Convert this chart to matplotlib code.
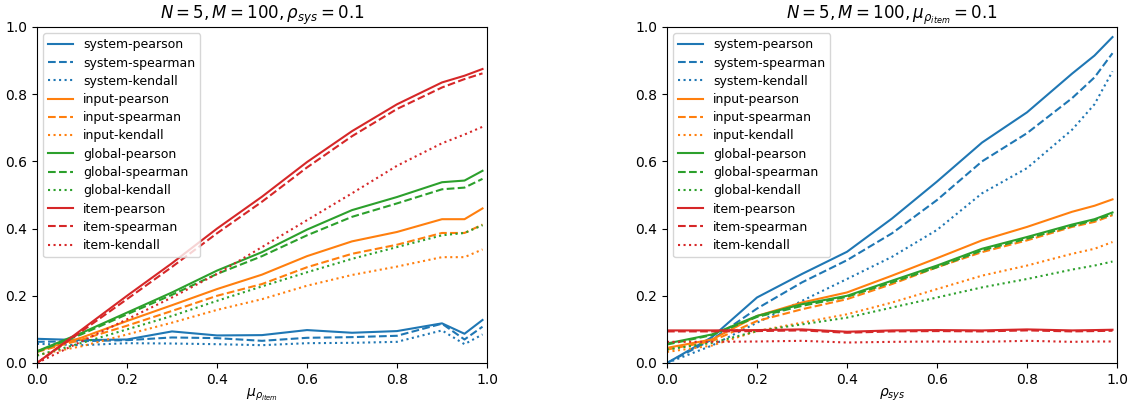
import matplotlib
matplotlib.use("Agg")
import matplotlib.pyplot as plt

# x grid shared by both panels
x_vals = [0.0, 0.1, 0.2, 0.3, 0.4, 0.5, 0.6, 0.7, 0.8, 0.9, 0.95, 0.99]

# left panel: varying mu_rho_item, rho_sys = 0.1
left_system_pearson = [0.072, 0.068, 0.070, 0.094, 0.082, 0.083, 0.098, 0.090, 0.095, 0.118, 0.087, 0.128]
left_system_spearman = [0.063, 0.065, 0.068, 0.076, 0.074, 0.066, 0.075, 0.077, 0.081, 0.117, 0.070, 0.108]
left_system_kendall = [0.057, 0.053, 0.059, 0.058, 0.056, 0.053, 0.059, 0.060, 0.063, 0.097, 0.056, 0.085]
left_input_pearson = [0.035, 0.076, 0.125, 0.172, 0.220, 0.263, 0.318, 0.362, 0.390, 0.428, 0.428, 0.460]
left_input_spearman = [0.033, 0.070, 0.111, 0.155, 0.200, 0.235, 0.285, 0.325, 0.352, 0.387, 0.387, 0.412]
left_input_kendall = [0.024, 0.050, 0.085, 0.120, 0.158, 0.190, 0.230, 0.262, 0.287, 0.315, 0.315, 0.338]
left_global_pearson = [0.035, 0.090, 0.150, 0.210, 0.275, 0.330, 0.397, 0.455, 0.494, 0.538, 0.543, 0.572]
left_global_spearman = [0.033, 0.086, 0.145, 0.203, 0.265, 0.318, 0.380, 0.435, 0.475, 0.517, 0.522, 0.548]
left_global_kendall = [0.022, 0.060, 0.100, 0.140, 0.185, 0.228, 0.270, 0.310, 0.345, 0.380, 0.387, 0.410]
left_item_pearson = [0.000, 0.100, 0.200, 0.297, 0.400, 0.495, 0.598, 0.690, 0.770, 0.835, 0.855, 0.875]
left_item_spearman = [0.000, 0.095, 0.190, 0.286, 0.386, 0.480, 0.582, 0.675, 0.756, 0.820, 0.845, 0.862]
left_item_kendall = [0.000, 0.065, 0.130, 0.195, 0.265, 0.345, 0.425, 0.505, 0.587, 0.654, 0.680, 0.703]

# right panel: varying rho_sys, mu_rho_item = 0.1
right_system_pearson = [0.000, 0.077, 0.195, 0.265, 0.331, 0.430, 0.540, 0.656, 0.746, 0.861, 0.915, 0.970]
right_system_spearman = [0.000, 0.070, 0.162, 0.240, 0.306, 0.386, 0.485, 0.600, 0.684, 0.788, 0.850, 0.922]
right_system_kendall = [0.000, 0.052, 0.120, 0.185, 0.250, 0.316, 0.396, 0.505, 0.580, 0.694, 0.770, 0.868]
right_input_pearson = [0.045, 0.070, 0.140, 0.180, 0.210, 0.260, 0.312, 0.365, 0.405, 0.450, 0.468, 0.487]
right_input_spearman = [0.040, 0.065, 0.125, 0.160, 0.190, 0.235, 0.285, 0.330, 0.365, 0.405, 0.420, 0.440]
right_input_kendall = [0.033, 0.052, 0.095, 0.120, 0.145, 0.180, 0.220, 0.260, 0.290, 0.325, 0.340, 0.360]
right_global_pearson = [0.058, 0.085, 0.140, 0.175, 0.200, 0.245, 0.290, 0.340, 0.375, 0.412, 0.428, 0.448]
right_global_spearman = [0.055, 0.083, 0.137, 0.170, 0.197, 0.240, 0.285, 0.335, 0.370, 0.408, 0.425, 0.443]
right_global_kendall = [0.040, 0.060, 0.095, 0.115, 0.135, 0.165, 0.195, 0.225, 0.250, 0.278, 0.290, 0.302]
right_item_pearson = [0.097, 0.097, 0.098, 0.100, 0.093, 0.097, 0.098, 0.097, 0.100, 0.097, 0.098, 0.099]
right_item_spearman = [0.094, 0.094, 0.095, 0.097, 0.090, 0.094, 0.095, 0.094, 0.097, 0.094, 0.095, 0.096]
right_item_kendall = [0.063, 0.063, 0.064, 0.066, 0.061, 0.063, 0.064, 0.063, 0.066, 0.063, 0.064, 0.064]

levels = ["system", "input", "global", "item"]
metrics = ["pearson", "spearman", "kendall"]
styles = {"pearson": "-", "spearman": "--", "kendall": ":"}
colors = {"system": "C0", "input": "C1", "global": "C2", "item": "C3"}

left_data = {
    "system": [left_system_pearson, left_system_spearman, left_system_kendall],
    "input": [left_input_pearson, left_input_spearman, left_input_kendall],
    "global": [left_global_pearson, left_global_spearman, left_global_kendall],
    "item": [left_item_pearson, left_item_spearman, left_item_kendall],
}
right_data = {
    "system": [right_system_pearson, right_system_spearman, right_system_kendall],
    "input": [right_input_pearson, right_input_spearman, right_input_kendall],
    "global": [right_global_pearson, right_global_spearman, right_global_kendall],
    "item": [right_item_pearson, right_item_spearman, right_item_kendall],
}

fig = plt.figure(figsize=(11.31, 4.04), dpi=100)
ax1 = fig.add_axes([37 / 1131, 41 / 404, 450 / 1131, 336 / 404])
ax2 = fig.add_axes([667 / 1131, 41 / 404, 450 / 1131, 336 / 404])


def draw(ax, data):
    for lvl in levels:
        for m, vals in zip(metrics, data[lvl]):
            ax.plot(x_vals, vals, color=colors[lvl], linestyle=styles[m],
                    label=f"{lvl}-{m}")
    ax.set_xlim(0, 1)
    ax.set_ylim(0, 1)
    ax.legend(loc="upper left", fontsize=9, labelspacing=0.42)


draw(ax1, left_data)
ax1.set_title(r"$N=5, M=100, \rho_{sys}=0.1$")
ax1.set_xlabel(r"$\mu_{\rho_{item}}$", labelpad=0)

draw(ax2, right_data)
ax2.set_title(r"$N=5, M=100, \mu_{\rho_{item}}=0.1$")
ax2.set_xlabel(r"$\rho_{sys}$", labelpad=0)

fig.savefig("out.png", dpi=100)
plt.close(fig)
